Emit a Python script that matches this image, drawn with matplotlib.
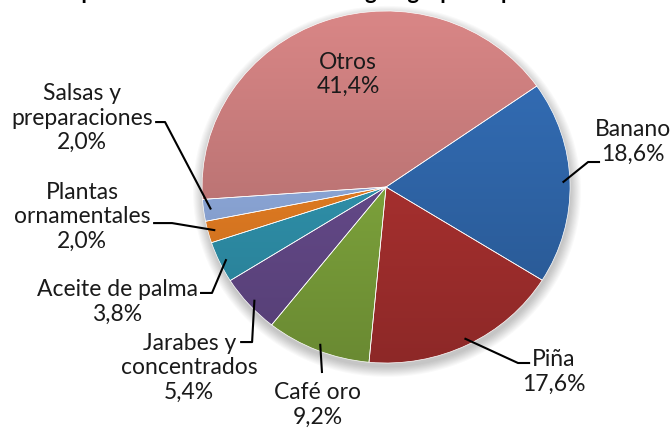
import matplotlib.pyplot as plt
import numpy as np
from matplotlib.colors import to_rgb
from matplotlib.patches import Circle

plt.rcParams['font.family'] = ['Lato', 'DejaVu Sans']

# Datos: participación en las exportaciones (%)
labels = ['Banano', 'Piña', 'Café oro', 'Jarabes y\nconcentrados',
          'Aceite de palma', 'Plantas\nornamentales', 'Salsas y\npreparaciones',
          'Otros']
shares = [18.6, 17.6, 9.2, 5.4, 3.8, 2.0, 2.0, 41.4]
colors = ['#2f65a8', '#a8302f', '#7ea43c', '#654a8a', '#2f91ab',
          '#e27c22', '#8ca7d8', '#c27878']

title = 'Exportaciones de Costa Rica según grupo de productos 2010'

# Posiciones de las etiquetas (coordenadas del pastel, radio 1)
text_pos = [(1.34, 0.255), (0.91, -1.05), (-0.37, -1.238), (-1.07, -1.028),
            (-1.462, -0.653), (-1.652, -0.17), (-1.652, 0.39), (-0.207, 0.64)]
elbows = [(1.098, 0.142), (0.717, -1.0), (-0.348, -1.057), (-0.728, -0.881),
          (-0.946, -0.602), (-1.163, -0.205), (-1.201, 0.369), None]
line_end_x = [1.163, 0.783, -0.348, -0.793, -1.011, -1.266, -1.255, None]


def fmt(v):
    return f'{v:.1f}%'.replace('.', ',')


fig = plt.figure(figsize=(6.72, 4.29), dpi=100)
ax = fig.add_axes([0, 0, 1, 1])

# Sombra suave bajo el pastel
for i in range(10):
    ax.add_patch(Circle((0.005, -0.025), 1.0 + 0.006 * i, color='black',
                        alpha=0.025, lw=0, zorder=1))

wedges, _ = ax.pie(shares, colors=colors, startangle=35, counterclock=False,
                   radius=1, wedgeprops=dict(edgecolor='white', linewidth=0.5))

# Degradado vertical dentro de cada sector
ny = 200
shade = np.linspace(1.12, 0.84, ny)[:, None, None]
for w, c in zip(wedges, colors):
    base = np.array(to_rgb(c))[None, None, :]
    img = np.clip(base * shade, 0, 1)
    im = ax.imshow(img, extent=(-1, 1, -1, 1), origin='upper', aspect='auto',
                   interpolation='bilinear', zorder=2)
    im.set_clip_path(w)
    w.set_facecolor('none')
    w.set_zorder(3)

# Etiquetas y líneas guía
for w, lab, v, tp, el, ex in zip(wedges, labels, shares, text_pos, elbows, line_end_x):
    ax.text(tp[0], tp[1], f'{lab}\n{fmt(v)}', ha='center', va='center',
            fontsize=16.5, color='#1a1a1a', linespacing=1.2, zorder=5)
    if el is None:
        continue
    ang = np.deg2rad((w.theta1 + w.theta2) / 2)
    ax0, ay0 = 0.96 * np.cos(ang), 0.96 * np.sin(ang)
    ax.plot([ax0, el[0], ex], [ay0, el[1], el[1]], color='black', lw=1.5,
            zorder=4, solid_capstyle='butt')

ax.set_aspect('auto')
ax.set_xlim(-2.098, 1.554)
ax.set_ylim(-1.375, 1.0625)
ax.axis('off')

# El título queda recortado por el borde superior, como en el original
fig.text(358 / 672, 1 + 1 / 429, title, ha='center', va='baseline',
         fontsize=16, fontweight='bold')

fig.savefig('out.png', dpi=100)
